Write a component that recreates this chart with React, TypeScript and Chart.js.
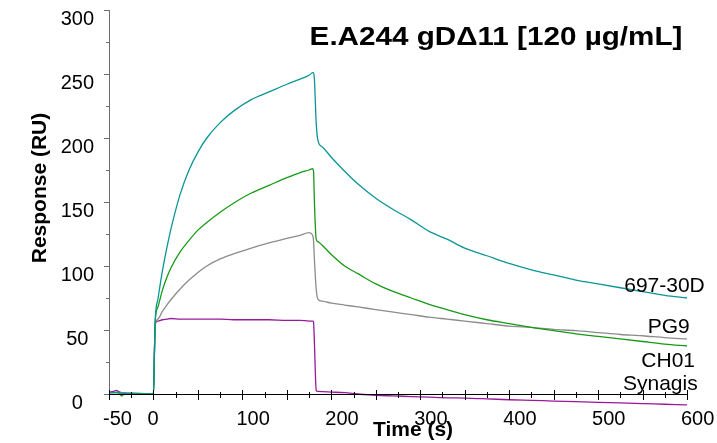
import React, { useEffect, useRef } from 'react';
import { Chart, registerables } from 'chart.js';

Chart.register(...registerables);

const TIME = [
  -50, -45, -42, -38, -36, -33, -25, -15, -5, 0,
  1, 2, 5, 10, 15, 20, 30, 40, 50, 60,
  75, 90, 110, 130, 150, 165, 175, 179, 180, 181,
  183, 185, 190, 200, 215, 230, 250, 270, 290, 310,
  330, 350, 375, 400, 425, 450, 475, 500, 525, 550,
  575, 600,
];

const R_697 = [
  1, 1, 1.5, 1, 0.5, 0.5, 0.5, 0, 0, 0,
  30, 58, 74, 96, 114, 130, 156, 175, 189, 200,
  212, 221, 230, 236, 242, 246, 249, 251, 251, 246,
  212, 198, 193, 185, 174, 164, 153, 144, 136, 127,
  121, 114, 108, 102, 97, 93, 89, 86, 83, 80,
  77, 75,
];

const R_CH01 = [
  1, 1, 1, 0.5, -1.5, 0, 0.5, 0.5, 0, 0,
  30, 57, 68, 81, 91, 99, 111, 120, 128, 134,
  142, 149, 157, 163, 169, 173, 175, 176, 174, 150,
  121, 119, 116, 109, 100, 94, 86, 80, 75, 70,
  66, 62, 58, 55, 52, 49.5, 47, 45, 43, 41,
  39, 37.5,
];

const R_PG9 = [
  1, 1, 1, 1, 1, 0.5, 0.5, 0, 0, 0,
  28, 54, 58.5, 64.5, 69.5, 74, 82, 89, 95, 100,
  105.5, 109.5, 114, 118, 121.5, 124, 126, 124, 120, 105,
  82, 74, 72.5, 71, 69.5, 68, 66, 64, 62, 60,
  58.5, 57, 55, 53, 52, 50.5, 49.5, 48, 46.5, 45.5,
  44, 43,
];

const R_SYN = [
  1.5, 2, 2.8, 1.5, 1, 0.8, 0.5, 0.3, 0, 0,
  30, 55, 57, 58, 58.5, 59, 58.5, 58.5, 58.5, 58.5,
  58.5, 58, 58, 58, 57.5, 57.5, 57, 57, 56.5, 40,
  3, 2, 1.8, 1.5, 1, 0, -1, -1.5, -2, -2.5,
  -3, -3.2, -3.8, -4.5, -5, -5.5, -6, -6.5, -7, -7.5,
  -8, -8.5,
];

const SERIES_NAMES = ['697-30D', 'CH01', 'PG9', 'Synagis'];
const SERIES_VALUES = [R_697, R_CH01, R_PG9, R_SYN];
const SERIES_COLORS = ['#0a9696', '#169a16', '#8c8c8c', '#9a189a'];
const LABEL_X = [620, 609, 603, 612];
const LABEL_Y = [84, 26, 52, 8];

const X_LABELLED = [-50, 0, 100, 200, 300, 400, 500, 600];
const TITLE = 'E.A244 gD\u039411 [120 \u00b5g/mL]';
const X_TITLE = 'Time (s)';
const Y_TITLE = 'Response (RU)';

const FONT = '"Liberation Sans", Arial, sans-serif';

const decorPlugin = {
  id: 'decor',
  afterDraw(chart: any) {
    const ctx = chart.ctx;
    const xs = chart.scales.x;
    const ys = chart.scales.y;
    const left = Math.round(xs.getPixelForValue(-50));
    const right = Math.round(xs.getPixelForValue(600));
    const y0 = Math.round(ys.getPixelForValue(0));
    const yTop = Math.round(ys.getPixelForValue(300));
    ctx.save();
    ctx.globalAlpha = 1;
    // y axis
    ctx.fillStyle = '#6e6e6e';
    ctx.fillRect(left, yTop, 1, y0 - yTop + 1);
    for (let v = 0; v <= 300; v += 25) {
      const py = Math.round(ys.getPixelForValue(v));
      const len = v % 50 === 0 ? 5 : 3;
      ctx.fillRect(left - len, py, len, 1);
    }
    // x axis
    ctx.fillStyle = '#000000';
    ctx.fillRect(left, y0, right - left + 1, 1);
    for (let v = -50; v <= 600; v += 25) {
      const px = Math.round(xs.getPixelForValue(v));
      const major = v % 50 === 0;
      const up = major ? 4 : 2;
      const down = major ? 5 : 3;
      ctx.fillRect(px, y0 - up, 1, up + down + 1);
    }
    // series labels
    ctx.fillStyle = '#000000';
    ctx.font = `21px ${FONT}`;
    ctx.textAlign = 'right';
    ctx.textBaseline = 'middle';
    SERIES_NAMES.forEach((name, i) => {
      ctx.fillText(name, xs.getPixelForValue(LABEL_X[i]), ys.getPixelForValue(LABEL_Y[i]));
    });
    // axis titles
    ctx.textAlign = 'center';
    ctx.font = `bold 21px ${FONT}`;
    ctx.fillText(X_TITLE, 413, 430);
    ctx.save();
    ctx.translate(40, 188);
    ctx.rotate(-Math.PI / 2);
    ctx.fillText(Y_TITLE, 0, 0);
    ctx.restore();
    // title (slightly wide lettering, as in the reference)
    ctx.font = `bold 26px ${FONT}`;
    ctx.textBaseline = 'alphabetic';
    ctx.translate(496, 45);
    ctx.scale(1.14, 1);
    ctx.fillText(TITLE, 0, 0);
    ctx.restore();
  },
};

export default function App() {
  const ref = useRef<HTMLCanvasElement>(null);
  useEffect(() => {
    if (!ref.current) return;
    Chart.defaults.font.family = FONT;
    const datasets = SERIES_NAMES.map((name, i) => ({
      label: name,
      data: TIME.map((t, k) => ({ x: t, y: SERIES_VALUES[i][k] })),
      borderColor: SERIES_COLORS[i],
      backgroundColor: SERIES_COLORS[i],
      borderWidth: 1.3,
      pointRadius: 0,
      cubicInterpolationMode: 'monotone' as const,
      clip: false as any,
    }));
    const chart = new Chart(ref.current, {
      type: 'line',
      data: { datasets },
      options: {
        responsive: false,
        animation: false,
        devicePixelRatio: 1,
        layout: { padding: { top: 10, right: 30, left: 0, bottom: 0 } },
        plugins: { legend: { display: false }, tooltip: { enabled: false }, title: { display: false } },
        scales: {
          x: {
            type: 'linear',
            min: -50,
            max: 600,
            grid: { display: false, drawTicks: false },
            border: { display: false },
            ticks: {
              stepSize: 50,
              autoSkip: false,
              maxRotation: 0,
              minRotation: 0,
              align: 'start',
              labelOffset: -6,
              padding: 13,
              color: '#000',
              font: { size: 20, family: FONT },
              callback: (v: any) => (X_LABELLED.includes(Number(v)) ? String(v) : ''),
            },
            afterFit: (s: any) => {
              s.height = 49;
              s.paddingLeft = 0;
              s.paddingRight = 0;
              s.paddingTop = 0;
              s.paddingBottom = 0;
            },
          },
          y: {
            type: 'linear',
            min: 0,
            max: 300,
            grid: { display: false, drawTicks: false },
            border: { display: false },
            ticks: {
              stepSize: 50,
              labelOffset: 9,
              padding: 15,
              crossAlign: 'center',
              color: '#000',
              font: { size: 20, family: FONT },
            },
            afterFit: (s: any) => {
              s.width = 109;
              s.paddingLeft = 0;
              s.paddingRight = 0;
              s.paddingTop = 0;
              s.paddingBottom = 0;
            },
          },
        },
      },
      plugins: [decorPlugin],
    });
    return () => chart.destroy();
  }, []);
  return (
    <div style={{ position: 'absolute', left: 0, top: 0, width: 717, height: 443, background: '#fff' }}>
      <canvas ref={ref} width={717} height={443} style={{ display: 'block' }} />
    </div>
  );
}
